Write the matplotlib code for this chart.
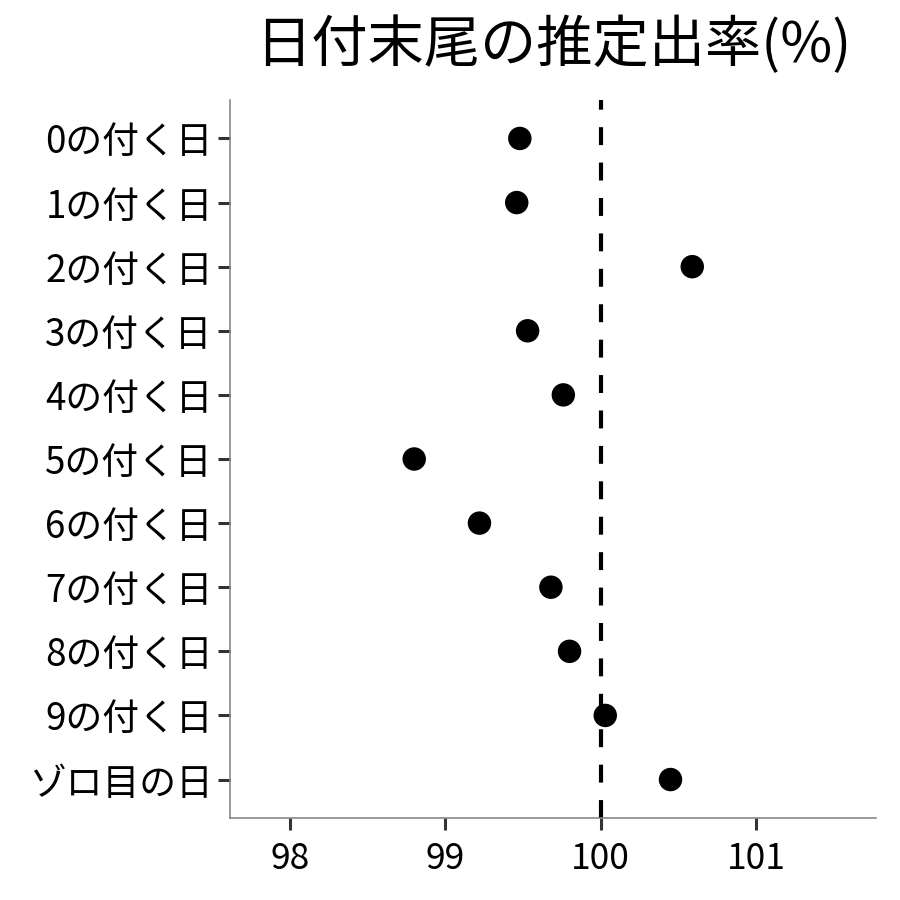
import matplotlib
matplotlib.use("Agg")
import matplotlib.pyplot as plt

plt.rcParams['font.family'] = ['Noto Sans CJK JP', 'DejaVu Sans']

# 値は図から読み取り
labels = ['0の付く日', '1の付く日', '2の付く日', '3の付く日', '4の付く日',
          '5の付く日', '6の付く日', '7の付く日', '8の付く日', '9の付く日', 'ゾロ目の日']
rates = [99.48, 99.46, 100.59, 99.53, 99.76, 98.80, 99.22, 99.68, 99.80, 100.03, 100.45]
ref_value = 100
x_ticks = [98, 99, 100, 101]

fig = plt.figure(figsize=(9, 9), dpi=100)
ax = fig.add_axes([230 / 900, 1 - 818 / 900, 646 / 900, 718 / 900])

ypos = list(range(len(labels)))[::-1]
ax.axvline(ref_value, color='black', lw=3, linestyle=(0, (4.3, 4.2)), zorder=1)
ax.scatter(rates, ypos, s=285, color='black', edgecolors='none', zorder=3)

ax.set_xlim(97.614, 101.773)
ax.set_ylim(-0.6, len(labels) - 1 + 0.6)
ax.set_xticks(x_ticks)
ax.set_xticklabels([str(t) for t in x_ticks])
ax.set_yticks(ypos)
ax.set_yticklabels(labels)

ax.tick_params(axis='both', which='major', labelsize=25.5, length=8.5, width=2.2,
               color='#333333', labelcolor='black', pad=4)
ax.tick_params(axis='y', labelsize=26.5)
ax.tick_params(axis='x', pad=8)

for side in ['top', 'right']:
    ax.spines[side].set_visible(False)
for side in ['left', 'bottom']:
    ax.spines[side].set_color('#7f7f7f')
    ax.spines[side].set_linewidth(1.1)

fig.text(553 / 900, 1 - 46 / 900, '日付末尾の推定出率(%)', fontsize=40.5,
         ha='center', va='center')

fig.savefig('out.png', dpi=100)
